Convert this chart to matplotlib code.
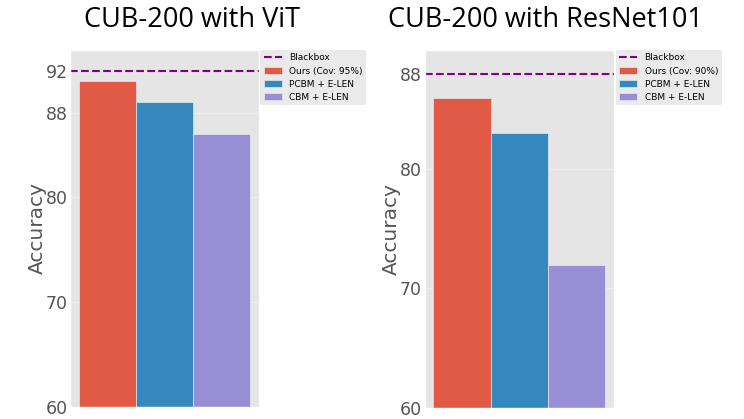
import matplotlib
matplotlib.use('Agg')
import matplotlib.pyplot as plt

plt.style.use('ggplot')

# data
methods = ['PCBM + E-LEN', 'CBM + E-LEN']
titles = ['CUB-200 with ViT', 'CUB-200 with ResNet101']
coverage = ['95%', '90%']
ours = [91.0, 86.0]
pcbm = [89.0, 83.0]
cbm = [86.0, 72.0]
blackbox = [92.0, 88.0]
yticks = [[60, 70, 80, 88, 92], [60, 70, 80, 88]]
ylims = [(60, 94), (60, 90)]

colors = ['#E15A46', '#3488BD', '#988ED5']

fig = plt.figure(figsize=(7.44, 4.19), dpi=100)
axes_pos = [[0.0945, 0.029, 0.253, 0.852], [0.571, 0.027, 0.254, 0.854]]
title_x = [0.258, 0.733]

for i in range(2):
    ax = fig.add_axes(axes_pos[i])
    vals = [ours[i], pcbm[i], cbm[i]]
    labels = ['Ours (Cov: {})'.format(coverage[i])] + methods
    for j in range(3):
        ax.bar(j, vals[j], width=1.0, color=colors[j],
               label=labels[j], edgecolor='#e8e8e8', linewidth=0.5)
    ax.axhline(blackbox[i], color='purple', linestyle='--', linewidth=1.5,
               label='Blackbox')
    ax.set_ylim(*ylims[i])
    ax.set_yticks(yticks[i])
    ax.set_xticks([])
    ax.tick_params(axis='y', labelsize=12.5, colors='#555555', length=0, pad=2)
    ax.set_ylabel('Accuracy', fontsize=14.5, color='#555555', labelpad=-1)
    ax.grid(color='white', alpha=0.35, linewidth=0.8)
    ax.set_axisbelow(True)
    leg = ax.legend(loc='upper left', bbox_to_anchor=(1.01, 1.0),
                    fontsize=6.5, frameon=True, borderaxespad=0,
                    handlelength=2.0, handletextpad=0.8, labelspacing=0.45)
    leg.get_frame().set_facecolor('#E5E5E5')
    leg.get_frame().set_edgecolor('none')
    fig.text(title_x[i], 0.952, titles[i], ha='center', va='center',
             fontsize=19.5, family='Open Sans', color='black')

fig.savefig('out.png', dpi=100)
